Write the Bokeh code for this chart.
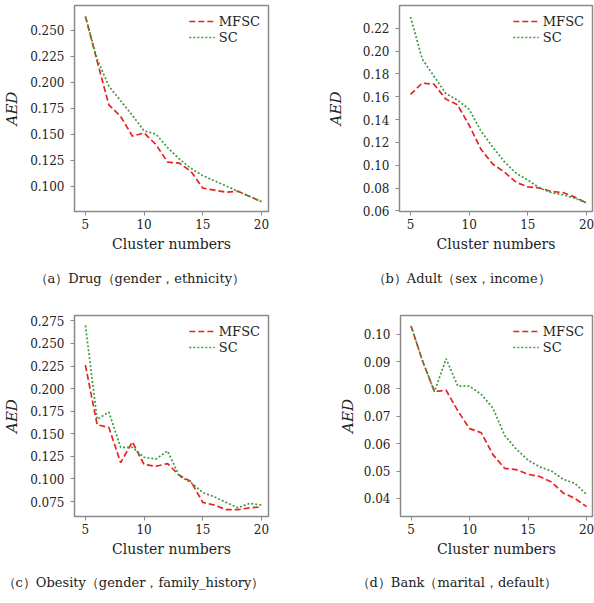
from bokeh.plotting import figure
from bokeh.models import Range1d, FixedTicker, PrintfTickFormatter, Legend, LegendItem, Title, ColumnDataSource
from bokeh.layouts import column, row
from bokeh.embed import file_html
from bokeh.resources import INLINE

clusters = list(range(5, 21))

drug_mfsc = [0.263, 0.220, 0.178, 0.167, 0.148, 0.151, 0.140, 0.123, 0.122, 0.114, 0.098, 0.096, 0.094, 0.095, 0.090, 0.085]
drug_sc = [0.263, 0.222, 0.196, 0.182, 0.168, 0.153, 0.150, 0.137, 0.126, 0.117, 0.110, 0.105, 0.100, 0.095, 0.090, 0.085]

adult_mfsc = [0.162, 0.172, 0.171, 0.158, 0.153, 0.135, 0.114, 0.101, 0.094, 0.085, 0.081, 0.080, 0.077, 0.076, 0.072, 0.067]
adult_sc = [0.230, 0.193, 0.178, 0.163, 0.157, 0.149, 0.130, 0.116, 0.103, 0.093, 0.087, 0.080, 0.076, 0.074, 0.071, 0.067]

obesity_mfsc = [0.226, 0.160, 0.157, 0.118, 0.141, 0.116, 0.114, 0.117, 0.104, 0.097, 0.074, 0.071, 0.066, 0.066, 0.068, 0.069]
obesity_sc = [0.270, 0.166, 0.174, 0.135, 0.135, 0.124, 0.122, 0.131, 0.103, 0.096, 0.085, 0.080, 0.074, 0.068, 0.073, 0.071]

bank_mfsc = [0.103, 0.090, 0.079, 0.0795, 0.072, 0.0655, 0.064, 0.056, 0.051, 0.0505, 0.0488, 0.048, 0.046, 0.042, 0.040, 0.037]
bank_sc = [0.103, 0.090, 0.079, 0.091, 0.081, 0.081, 0.078, 0.073, 0.063, 0.058, 0.054, 0.0515, 0.050, 0.047, 0.0455, 0.0415]

x_ticks = [5, 10, 15, 20]
drug_yticks = [0.100, 0.125, 0.150, 0.175, 0.200, 0.225, 0.250]
adult_yticks = [0.06, 0.08, 0.10, 0.12, 0.14, 0.16, 0.18, 0.20, 0.22]
obesity_yticks = [0.075, 0.100, 0.125, 0.150, 0.175, 0.200, 0.225, 0.250, 0.275]
bank_yticks = [0.04, 0.05, 0.06, 0.07, 0.08, 0.09, 0.10]

captions = ["（a）Drug（gender，ethnicity）", "（b）Adult（sex，income）",
            "（c）Obesity（gender，family_history）", "（d）Bank（marital，default）"]

SERIF = "DejaVu Serif"
RED = "#e8231f"
GREEN = "#3f9a3f"
FRAME = "#8a8a8a"
TXT = "#222222"


def panel(mfsc, sc, yr, yticks, fmt, caption, height, left, right, top, bottom, xr, cap_off, cap_standoff, ylab_standoff):
    p = figure(width=297, height=height, output_backend="svg", toolbar_location=None,
               x_range=Range1d(*xr), y_range=Range1d(*yr),
               min_border_left=left, min_border_right=right, min_border_top=top, min_border_bottom=bottom)
    p.outline_line_color = FRAME
    p.outline_line_width = 1.5
    p.xgrid.visible = False
    p.ygrid.visible = False
    src = ColumnDataSource(dict(x=clusters, m=mfsc, s=sc))
    r1 = p.line("x", "m", source=src, line_color=RED, line_width=1.7, line_dash="6 3")
    r2 = p.line("x", "s", source=src, line_color=GREEN, line_width=1.7, line_dash="2 2")
    for ax in (p.xaxis[0], p.yaxis[0]):
        ax.axis_line_color = None
        ax.major_tick_line_color = FRAME
        ax.major_tick_out = 4
        ax.major_tick_in = 0
        ax.minor_tick_line_color = None
        ax.major_label_text_font = SERIF
        ax.major_label_text_font_size = "12px"
        ax.major_label_text_color = TXT
        ax.axis_label_text_font = SERIF
        ax.axis_label_text_color = TXT
    p.xaxis.major_label_standoff = 3
    p.yaxis.major_label_standoff = 6
    p.xaxis.ticker = FixedTicker(ticks=x_ticks)
    p.yaxis.ticker = FixedTicker(ticks=yticks)
    p.yaxis.formatter = PrintfTickFormatter(format=fmt)
    p.xaxis.axis_label = "Cluster numbers"
    p.xaxis.axis_label_text_font_size = "14px"
    p.xaxis.axis_label_standoff = 4
    p.xaxis.axis_label_text_font_style = "normal"
    p.yaxis.axis_label = "AED"
    p.yaxis.axis_label_text_font_size = "15px"
    p.yaxis.axis_label_text_font_style = "italic"
    p.yaxis.axis_label_standoff = ylab_standoff
    legend = Legend(items=[LegendItem(label="MFSC", renderers=[r1]), LegendItem(label="SC", renderers=[r2])],
                    location="top_right", border_line_color=None, background_fill_alpha=0,
                    label_text_font=SERIF, label_text_font_size="13px", label_text_color=TXT,
                    glyph_width=26, glyph_height=16, label_height=16, spacing=0,
                    padding=2, margin=8, label_standoff=4)
    p.add_layout(legend)
    t = Title(text=caption, align="left", offset=cap_off, text_font=SERIF, text_font_size="13px",
              text_font_style="normal", text_color=TXT, standoff=cap_standoff)
    p.add_layout(t, "below")
    return p


pa = panel(drug_mfsc, drug_sc, (0.0755, 0.2736), drug_yticks, "%.3f", captions[0],
           299, 73, 29, 5, 88, (4.07, 20.6), -40, 28, 6)
pb = panel(adult_mfsc, adult_sc, (0.0594, 0.240), adult_yticks, "%.2f", captions[1],
           299, 102, 2, 5, 88, (4.06, 20.51), -27, 28, 15)
pc = panel(obesity_mfsc, obesity_sc, (0.0584, 0.281), obesity_yticks, "%.3f", captions[2],
           303, 73, 29, 16, 86, (4.07, 20.6), -72, 26, 6)
pd = panel(bank_mfsc, bank_sc, (0.0334, 0.1068), bank_yticks, "%.2f", captions[3],
           303, 103, 2, 16, 86, (4.1, 20.51), -44, 26, 4)

layout = column(row(pa, pb), row(pc, pd))
open("out.html", "w").write(file_html(layout, INLINE))
